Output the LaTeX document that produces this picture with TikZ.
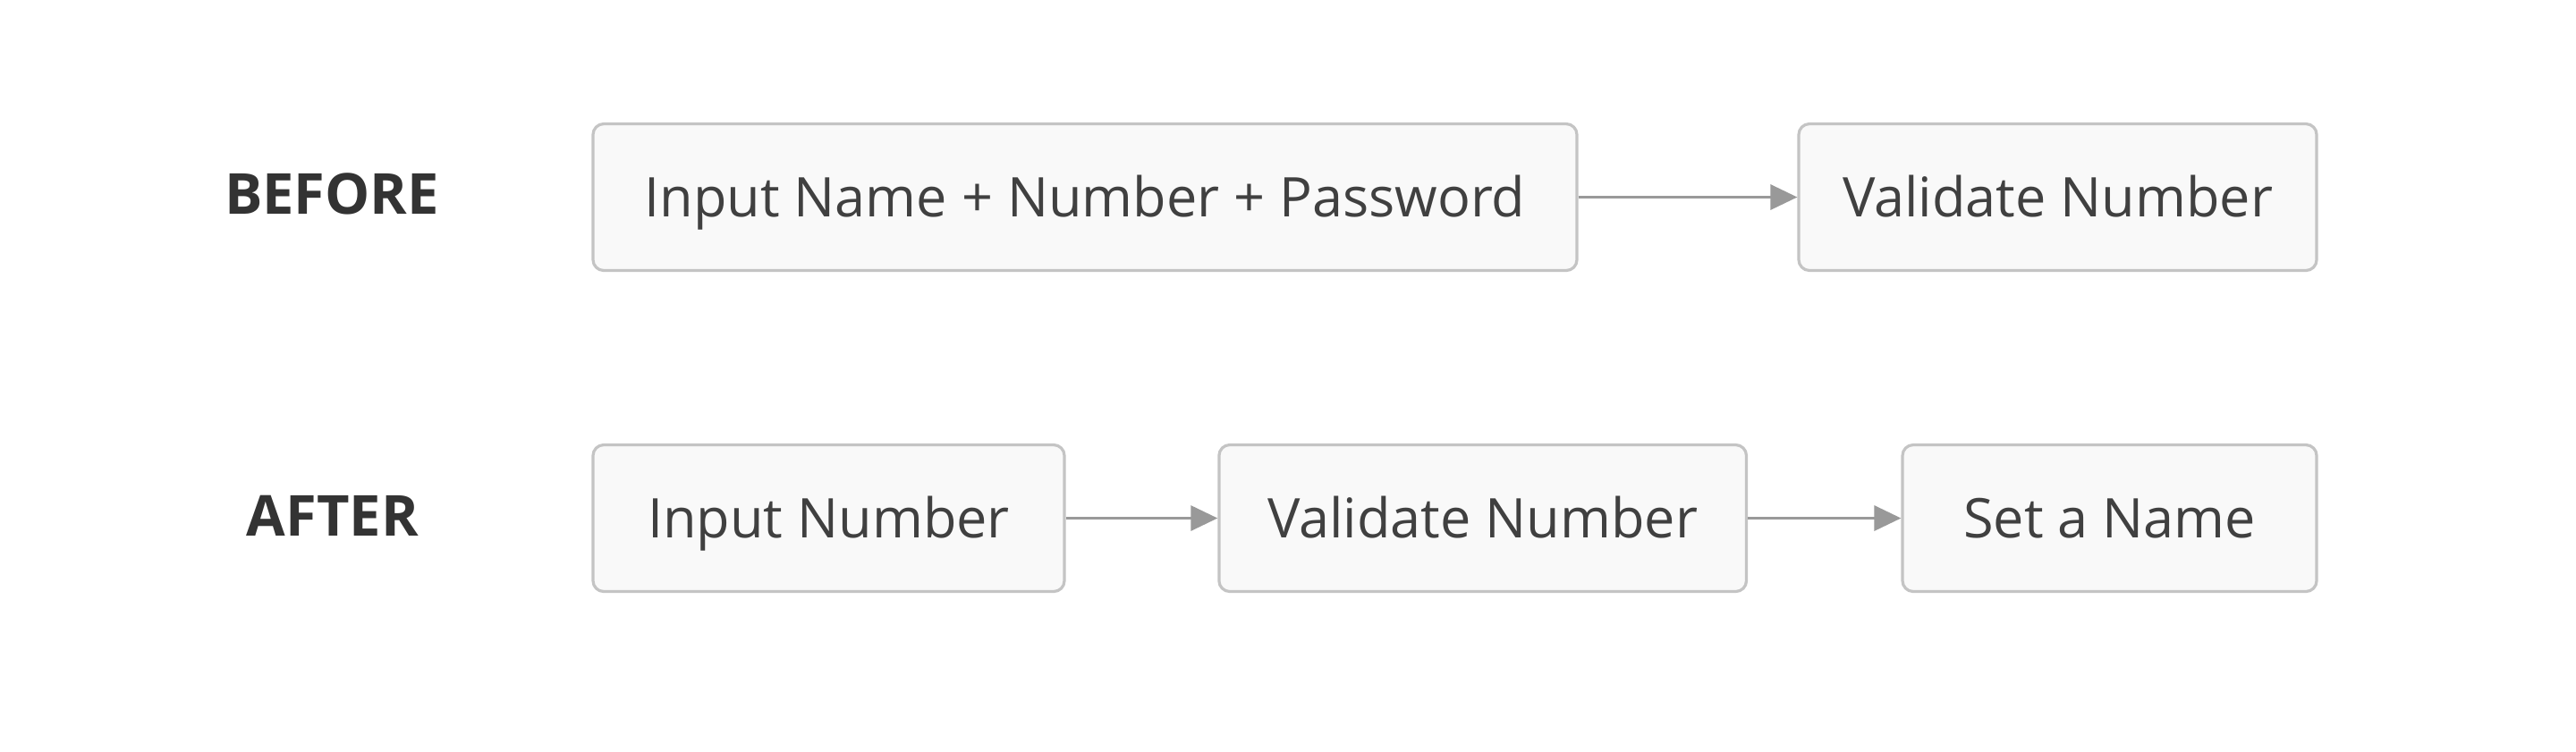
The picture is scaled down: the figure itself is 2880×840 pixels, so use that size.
\documentclass[tikz,border=0pt]{standalone}
\usepackage{fontspec}
\setmainfont{Open Sans}
\usetikzlibrary{arrows.meta}
\definecolor{boxfill}{HTML}{F9F9F9}
\definecolor{boxline}{HTML}{C4C4C4}
\definecolor{flowline}{HTML}{999999}
\definecolor{steptext}{HTML}{404040}
\definecolor{rowtext}{HTML}{333333}
\begin{document}
\begin{tikzpicture}[x=0.25pt,y=-0.25pt,
  stepbox/.style={draw=boxline,line width=0.8pt,fill=boxfill,rounded corners=3pt,
    minimum height=41pt,inner sep=0pt,text height=11pt,text depth=0pt,
    text=steptext,font=\fontsize{15.3}{18}\selectfont},
  rowlabel/.style={text=rowtext,text height=11pt,text depth=0pt,
    font=\fontsize{15.8}{18}\selectfont\bfseries},
  flow/.style={draw=flowline,line width=0.8pt,-{Triangle[length=7.5pt,width=7pt]}}]
\useasboundingbox[fill=white] (0,0) rectangle (2880,840);
% before
\node[rowlabel] (before) at (371,217) {BEFORE};
\node[stepbox,minimum width=275pt] (all) at (1213,220.5) {Input Name + Number + Password};
\node[stepbox,minimum width=144.75pt] (valid1) at (2300.5,220.5) {Validate Number};
\draw[flow] (all) -- (valid1);
% after
\node[rowlabel] (after) at (372,577) {AFTER};
\node[stepbox,minimum width=131.75pt] (number) at (926.5,579.5) {Input Number};
\node[stepbox,minimum width=147.4pt] (valid2) at (1657.7,579.5) {Validate Number};
\node[stepbox,minimum width=115.75pt] (name) at (2358.5,579.5) {Set a Name};
\draw[flow] (number) -- (valid2);
\draw[flow] (valid2) -- (name);
\end{tikzpicture}
\end{document}
